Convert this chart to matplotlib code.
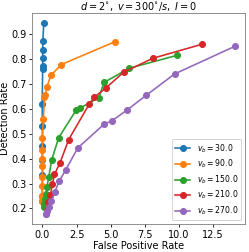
import matplotlib
matplotlib.use("Agg")
import matplotlib.pyplot as plt

labels = ["$v_b = 30.0$", "$v_b = 90.0$", "$v_b = 150.0$", "$v_b = 210.0$", "$v_b = 270.0$"]
colors = ["#1f77b4", "#ff7f0e", "#2ca02c", "#d62728", "#9467bd"]

fpr_30 = [0.1, 0.03, 0.02, 0.02, 0.02, 0.02, -0.02, 0.0, 0.0, 0.0, 0.0, -0.01, -0.01]
tpr_30 = [0.945, 0.872, 0.838, 0.806, 0.773, 0.762, 0.621, 0.533, 0.452, 0.396, 0.336, 0.25, 0.23]

fpr_90 = [5.29, 1.39, 0.61, 0.32, 0.22, 0.15, 0.07, 0.0, 0.0, 0.0, 0.0, 0.0, -0.01, -0.01, -0.01]
tpr_90 = [0.869, 0.778, 0.734, 0.687, 0.657, 0.648, 0.561, 0.484, 0.434, 0.399, 0.369, 0.327, 0.29, 0.252, 0.232]

fpr_150 = [9.87, 6.36, 4.51, 4.14, 2.76, 2.46, 1.19, 0.68, 0.47, 0.33, 0.26, 0.2, 0.14, 0.1]
tpr_150 = [0.815, 0.763, 0.706, 0.645, 0.603, 0.594, 0.484, 0.395, 0.328, 0.286, 0.258, 0.237, 0.218, 0.205]

fpr_210 = [11.67, 8.09, 5.95, 4.63, 3.8, 3.44, 1.92, 1.29, 0.88, 0.73, 0.58, 0.44, 0.3]
tpr_210 = [0.859, 0.803, 0.747, 0.683, 0.647, 0.620, 0.476, 0.383, 0.337, 0.297, 0.253, 0.224, 0.195]

fpr_270 = [14.14, 9.68, 7.6, 6.17, 5.07, 4.53, 2.59, 1.72, 1.23, 0.9, 0.66, 0.51, 0.35, 0.27, 0.25]
tpr_270 = [0.852, 0.740, 0.654, 0.594, 0.551, 0.539, 0.443, 0.356, 0.31, 0.265, 0.229, 0.206, 0.188, 0.179, 0.176]

series = [(fpr_30, tpr_30), (fpr_90, tpr_90), (fpr_150, tpr_150), (fpr_210, tpr_210), (fpr_270, tpr_270)]

fig = plt.figure(figsize=(249/72, 252/72), dpi=72)
ax = fig.add_axes([0.1305, 0.111, 0.8535, 0.836])
for (x, y), lab, c in zip(series, labels, colors):
    ax.plot(x, y, marker="o", markersize=6, linewidth=1.6, color=c, label=lab)

ax.set_xticks([0.0, 2.5, 5.0, 7.5, 10.0, 12.5])
ax.set_yticks([0.2, 0.3, 0.4, 0.5, 0.6, 0.7, 0.8, 0.9])
ax.tick_params(labelsize=9.7, length=3, pad=2.5)
ax.set_xlabel("False Positive Rate", fontsize=9.7, labelpad=1)
ax.set_ylabel("Detection Rate", fontsize=9.7, labelpad=2)
ax.set_title(r"$d = 2^{\circ},\ v = 300^{\circ}/s,\ I = 0$", fontsize=9.7, pad=3)
ax.legend(loc="lower right", fontsize=7.8, handlelength=2, borderpad=0.4, labelspacing=0.4)
for s in ax.spines.values():
    s.set_color("#777777")

fig.savefig("out.png", dpi=72)
